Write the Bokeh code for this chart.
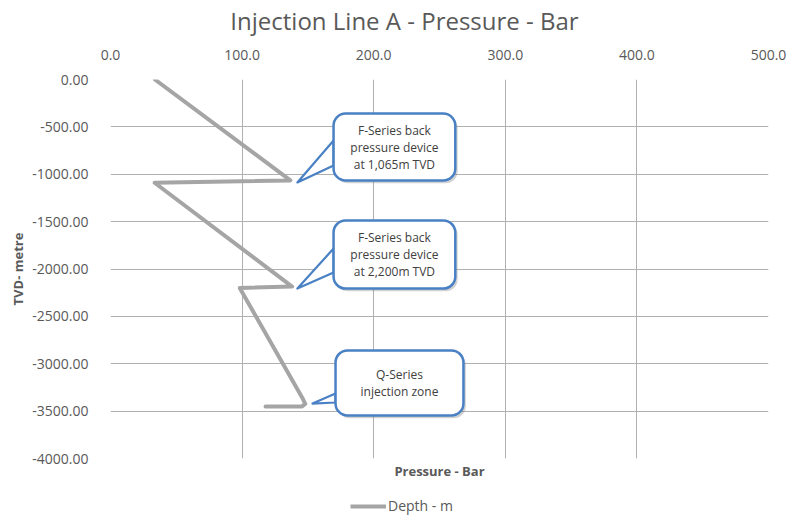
from bokeh.plotting import figure
from bokeh.layouts import column
from bokeh.models import (Range1d, FixedTicker, PrintfTickFormatter, Label,
                          BoxAnnotation, Legend, LegendItem, Title, ColumnDataSource)
from bokeh.embed import file_html
from bokeh.resources import INLINE

# ---- data ----
pressure_bar = [33.7, 136.7, 33.5, 138.0, 98.2, 145.5, 148.0, 145.5, 117.8]
depth_m = [0, -1065, -1090, -2185, -2200, -3353, -3423, -3450, -3450]
series_name = "Depth - m"
chart_title = "Injection Line A - Pressure - Bar"

x_ticks = [0, 100, 200, 300, 400, 500]
y_ticks = [0, -500, -1000, -1500, -2000, -2500, -3000, -3500, -4000]

callout_texts = ["F-Series back\npressure device\nat 1,065m TVD",
                 "F-Series back\npressure device\nat 2,200m TVD",
                 "Q-Series\ninjection zone"]
# box (left, right, top, bottom) and pointer (base top y, base bottom y, tip x, tip y), data units
callout_boxes = [(169.5, 262.0, -359, -1066),
                 (169.5, 262.0, -1488, -2206),
                 (171.0, 268.2, -2860, -3546)]
callout_ptrs = [(-644, -907, 142.0, -1087),
                (-1784, -2037, 142.0, -2206),
                (-3314, -3409, 153.5, -3420)]

FONT = "Open Sans"
GREY_TXT = "#595959"


def strip(h):
    f = figure(width=788, height=h, output_backend="svg", toolbar_location=None,
               x_range=Range1d(-2, -1), y_range=Range1d(-2, -1),
               x_axis_location=None, y_axis_location=None,
               min_border_left=0, min_border_right=0, min_border_top=0, min_border_bottom=0)
    f.outline_line_color = None
    f.grid.visible = False
    return f


# title strip
pt = strip(40)
pt.add_layout(Label(x=294, y=20, x_units="screen", y_units="screen", text=chart_title,
                    text_align="center", text_baseline="middle", text_font=FONT,
                    text_font_size="24px", text_color=GREY_TXT))

p = figure(width=788, height=450, output_backend="svg", toolbar_location=None,
           x_range=Range1d(0, 500), y_range=Range1d(-4000, 0),
           x_axis_location="above",
           min_border_left=110, min_border_right=20, min_border_top=39, min_border_bottom=32)
p.outline_line_color = None
p.background_fill_color = "white"
p.border_fill_color = "white"

# axes
for ax in (p.xaxis[0], p.yaxis[0]):
    ax.axis_line_color = None
    ax.major_tick_line_color = None
    ax.minor_tick_line_color = None
    ax.major_label_text_font = FONT
    ax.major_label_text_font_size = "14px"
    ax.major_label_text_color = GREY_TXT
p.xaxis[0].ticker = FixedTicker(ticks=x_ticks)
p.xaxis[0].formatter = PrintfTickFormatter(format="%.1f")
p.xaxis[0].major_label_standoff = 14
p.yaxis[0].ticker = FixedTicker(ticks=y_ticks)
p.yaxis[0].formatter = PrintfTickFormatter(format="%.2f")
p.yaxis[0].major_label_standoff = 16
p.yaxis[0].axis_label = "TVD- metre"
p.yaxis[0].axis_label_text_font = FONT
p.yaxis[0].axis_label_text_font_style = "bold"
p.yaxis[0].axis_label_text_font_size = "13px"
p.yaxis[0].axis_label_text_color = GREY_TXT
p.yaxis[0].axis_label_standoff = 2

p.xgrid[0].ticker = FixedTicker(ticks=x_ticks)
p.ygrid[0].ticker = FixedTicker(ticks=y_ticks)
p.grid.grid_line_color = "#b0b0b0"
p.grid.grid_line_width = 1

# bottom axis title
p.add_layout(Title(text="Pressure - Bar", align="center", text_font=FONT, text_font_size="13px",
                   text_font_style="bold", text_color=GREY_TXT, standoff=2), "below")

# data line
src = ColumnDataSource(dict(x=pressure_bar, y=depth_m))
p.line("x", "y", source=src, line_color="#a5a5a5", line_width=4, line_join="round", line_cap="round")

# callouts
BLUE = "#4a80c4"
for (l, rr, t, b), (by1, by2, tx, ty), txt in zip(callout_boxes, callout_ptrs, callout_texts):
    p.add_layout(BoxAnnotation(left=l + 1.8, right=rr + 1.8, top=t - 30, bottom=b - 30,
                               fill_color="#7f7f7f", fill_alpha=0.35, line_color=None,
                               border_radius=12, level="glyph"))
    p.patch([l, tx, l], [by1, ty, by2], fill_color="white", line_color=BLUE, line_width=2.2,
            line_join="round")
    p.add_layout(BoxAnnotation(left=l, right=rr, top=t, bottom=b, fill_color="white", fill_alpha=1,
                               line_color=BLUE, line_alpha=1, line_width=2.5, border_radius=12,
                               level="annotation"))
    p.add_layout(Label(x=(l + rr) / 2, y=(t + b) / 2, text=txt, text_align="center",
                       text_baseline="middle", text_font=FONT, text_font_size="12px",
                       text_color="#404040", text_line_height=1.0, level="overlay"))

# legend strip below the chart
pl = strip(25)
lr = pl.line("x", "y", source=src, line_color="#a5a5a5", line_width=4)
legend = Legend(items=[LegendItem(label=series_name, renderers=[lr])], orientation="horizontal",
                location=(240, 0), border_line_color=None, background_fill_alpha=0,
                label_text_font=FONT, label_text_font_size="14px", label_text_color=GREY_TXT,
                glyph_width=36, glyph_height=16, label_height=16, label_standoff=2,
                padding=0, margin=0, spacing=0)
pl.add_layout(legend, "center")

layout = column(pt, p, pl, spacing=0)
open("out.html", "w").write(file_html(layout, INLINE))
